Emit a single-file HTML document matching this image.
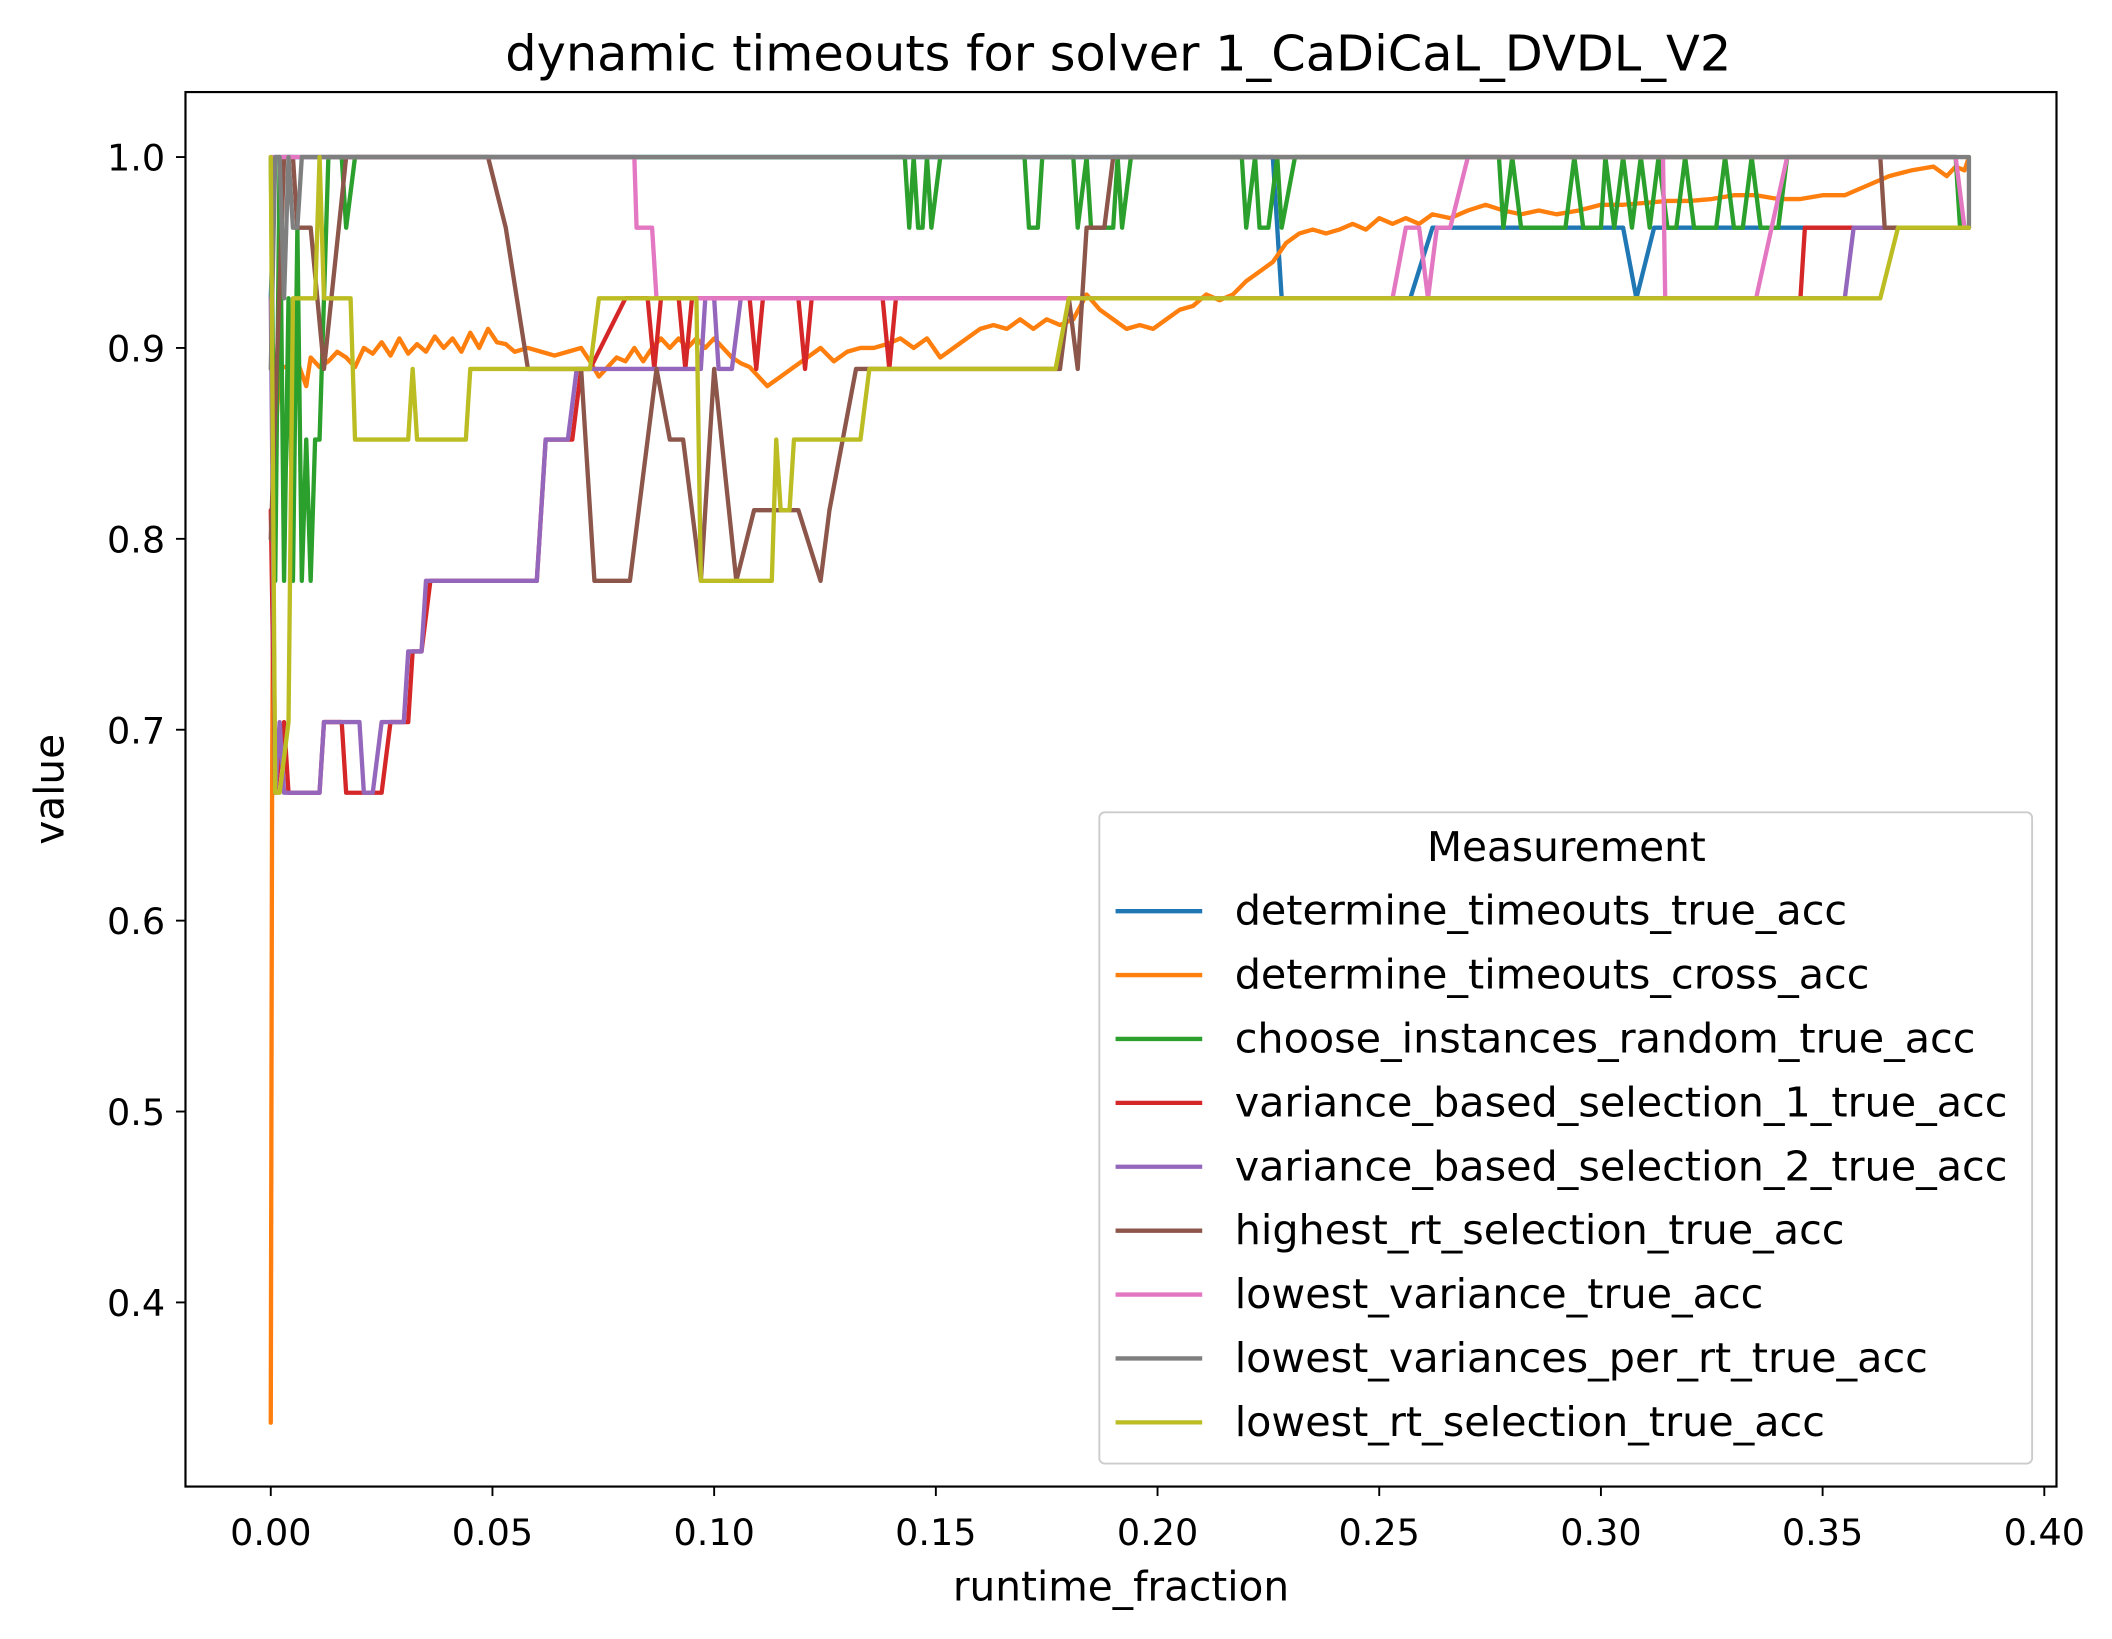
<!DOCTYPE html>
<html><head><meta charset="utf-8"><style>
html,body{margin:0;padding:0;background:#fff}
svg{display:block}
text{font-family:"DejaVu Sans","Liberation Sans",sans-serif;fill:#000}
</style></head><body>
<svg id="chart" width="2112" height="1639" viewBox="0 0 1560 1210.6" preserveAspectRatio="none" xmlns="http://www.w3.org/2000/svg">
<rect x="0" y="0" width="1560" height="1211" fill="#fff"/>
<text x="826" y="52" font-size="36.5" text-anchor="middle">dynamic timeouts for solver 1_CaDiCaL_DVDL_V2</text>
<g id="series"></g>
<rect x="137" y="68" width="1382" height="1030" fill="none" stroke="#000" stroke-width="1.6"/>
<g id="xt"></g>
<g id="yt"></g>
<text x="828" y="1182" font-size="30" text-anchor="middle">runtime_fraction</text>
<text transform="translate(47 583) rotate(-90)" font-size="30" text-anchor="middle">value</text>
<g id="legend"></g>
</svg>
<script>
const xTicks=[0,0.05,0.10,0.15,0.20,0.25,0.30,0.35,0.40];
const xTickLabels=["0.00","0.05","0.10","0.15","0.20","0.25","0.30","0.35","0.40"];
const yTicks=[0.4,0.5,0.6,0.7,0.8,0.9,1.0];
const yTickLabels=["0.4","0.5","0.6","0.7","0.8","0.9","1.0"];
const seriesNames=["determine_timeouts_true_acc","determine_timeouts_cross_acc","choose_instances_random_true_acc","variance_based_selection_1_true_acc","variance_based_selection_2_true_acc","highest_rt_selection_true_acc","lowest_variance_true_acc","lowest_variances_per_rt_true_acc","lowest_rt_selection_true_acc"];
const colors=["#1f77b4","#ff7f0e","#2ca02c","#d62728","#9467bd","#8c564b","#e377c2","#7f7f7f","#bcbd22"];
const blueData=[[0,0.926],[0.001,1],[0.226,1],[0.228,0.926],[0.257,0.926],[0.262,0.963],[0.305,0.963],[0.308,0.926],[0.312,0.963],[0.383,0.963]];
const orangeData=[[0,0.337],[0.0003,0.67],[0.0006,0.82],[0.001,0.85],[0.002,0.89],[0.004,0.89],[0.006,0.893],[0.008,0.88],[0.009,0.895],[0.011,0.89],[0.013,0.893],[0.015,0.898],[0.017,0.895],[0.019,0.89],[0.021,0.9],[0.023,0.897],[0.025,0.903],[0.027,0.896],[0.029,0.905],[0.031,0.897],[0.033,0.902],[0.035,0.898],[0.037,0.906],[0.039,0.9],[0.041,0.905],[0.043,0.898],[0.045,0.908],[0.047,0.9],[0.049,0.91],[0.051,0.903],[0.053,0.902],[0.055,0.898],[0.058,0.9],[0.061,0.898],[0.064,0.896],[0.067,0.898],[0.07,0.9],[0.072,0.893],[0.074,0.885],[0.076,0.89],[0.078,0.895],[0.08,0.893],[0.082,0.9],[0.084,0.893],[0.086,0.9],[0.088,0.905],[0.09,0.9],[0.092,0.905],[0.094,0.9],[0.096,0.905],[0.098,0.9],[0.1,0.905],[0.102,0.9],[0.104,0.895],[0.106,0.892],[0.108,0.89],[0.11,0.885],[0.112,0.88],[0.115,0.885],[0.118,0.89],[0.121,0.895],[0.124,0.9],[0.127,0.893],[0.13,0.898],[0.133,0.9],[0.136,0.9],[0.139,0.902],[0.142,0.905],[0.145,0.9],[0.148,0.905],[0.151,0.895],[0.154,0.9],[0.157,0.905],[0.16,0.91],[0.163,0.912],[0.166,0.91],[0.169,0.915],[0.172,0.91],[0.175,0.915],[0.178,0.912],[0.181,0.915],[0.184,0.928],[0.187,0.92],[0.19,0.915],[0.193,0.91],[0.196,0.912],[0.199,0.91],[0.202,0.915],[0.205,0.92],[0.208,0.922],[0.211,0.928],[0.214,0.925],[0.217,0.928],[0.22,0.935],[0.223,0.94],[0.226,0.945],[0.229,0.955],[0.232,0.96],[0.235,0.962],[0.238,0.96],[0.241,0.962],[0.244,0.965],[0.247,0.962],[0.25,0.968],[0.253,0.965],[0.256,0.968],[0.259,0.965],[0.262,0.97],[0.266,0.968],[0.27,0.972],[0.274,0.975],[0.278,0.972],[0.282,0.97],[0.286,0.972],[0.29,0.97],[0.295,0.972],[0.3,0.975],[0.305,0.975],[0.31,0.976],[0.315,0.977],[0.32,0.977],[0.325,0.978],[0.33,0.98],[0.335,0.98],[0.34,0.978],[0.345,0.978],[0.35,0.98],[0.355,0.98],[0.36,0.985],[0.365,0.99],[0.37,0.993],[0.375,0.995],[0.378,0.99],[0.38,0.995],[0.382,0.993],[0.383,1.0]];
const greenData=[[0,1],[0.001,0.778],[0.002,1],[0.003,0.778],[0.004,0.926],[0.005,0.778],[0.006,0.963],[0.007,0.778],[0.008,0.852],[0.009,0.778],[0.010,0.852],[0.011,0.852],[0.013,1],[0.016,1],[0.017,0.963],[0.019,1],[0.143,1],[0.144,0.963],[0.145,1],[0.146,0.963],[0.147,0.963],[0.148,1],[0.149,0.963],[0.151,1],[0.170,1],[0.171,0.963],[0.173,0.963],[0.174,1],[0.181,1],[0.182,0.963],[0.184,1],[0.185,0.963],[0.19,0.963],[0.191,1],[0.192,0.963],[0.194,1],[0.219,1],[0.22,0.963],[0.222,1],[0.223,0.963],[0.225,0.963],[0.227,1],[0.228,0.963],[0.231,1],[0.277,1],[0.278,0.963],[0.28,1],[0.282,0.963],[0.292,0.963],[0.294,1],[0.296,0.963],[0.3,0.963],[0.301,1],[0.303,0.963],[0.305,1],[0.307,0.963],[0.309,1],[0.311,0.963],[0.313,1],[0.315,0.963],[0.317,0.963],[0.319,1],[0.321,0.963],[0.326,0.963],[0.328,1],[0.33,0.963],[0.332,0.963],[0.334,1],[0.336,0.963],[0.34,0.963],[0.342,1],[0.38,1],[0.381,0.963],[0.383,0.963]];
const redData=[[0,0.815],[0.001,0.667],[0.003,0.704],[0.004,0.667],[0.011,0.667],[0.012,0.704],[0.016,0.704],[0.017,0.667],[0.025,0.667],[0.027,0.704],[0.031,0.704],[0.032,0.741],[0.034,0.741],[0.036,0.778],[0.06,0.778],[0.062,0.852],[0.068,0.852],[0.07,0.889],[0.072,0.889],[0.08,0.926],[0.085,0.926],[0.0865,0.889],[0.088,0.926],[0.092,0.926],[0.0935,0.889],[0.095,0.926],[0.108,0.926],[0.1095,0.889],[0.111,0.926],[0.119,0.926],[0.1205,0.889],[0.122,0.926],[0.138,0.926],[0.1395,0.889],[0.141,0.926],[0.345,0.926],[0.346,0.963],[0.383,0.963]];
const purpleData=[[0,0.926],[0.001,0.667],[0.002,0.704],[0.003,0.667],[0.011,0.667],[0.012,0.704],[0.02,0.704],[0.021,0.667],[0.023,0.667],[0.025,0.704],[0.03,0.704],[0.031,0.741],[0.034,0.741],[0.035,0.778],[0.06,0.778],[0.062,0.852],[0.067,0.852],[0.069,0.889],[0.075,0.889],[0.097,0.889],[0.098,0.926],[0.1,0.926],[0.101,0.889],[0.104,0.889],[0.106,0.926],[0.355,0.926],[0.357,0.963],[0.383,0.963]];
const brownData=[[0,0.8],[0.003,1],[0.005,1],[0.006,0.963],[0.009,0.963],[0.012,0.889],[0.017,1],[0.049,1],[0.053,0.963],[0.058,0.889],[0.07,0.889],[0.073,0.778],[0.081,0.778],[0.083,0.815],[0.087,0.889],[0.09,0.852],[0.093,0.852],[0.097,0.778],[0.1,0.889],[0.105,0.778],[0.109,0.815],[0.119,0.815],[0.124,0.778],[0.126,0.815],[0.132,0.889],[0.178,0.889],[0.18,0.926],[0.182,0.889],[0.184,0.963],[0.188,0.963],[0.19,1],[0.363,1],[0.364,0.963],[0.383,0.963]];
const pinkData=[[0,1],[0.082,1],[0.0825,0.963],[0.086,0.963],[0.087,0.926],[0.253,0.926],[0.256,0.963],[0.259,0.963],[0.261,0.926],[0.263,0.963],[0.266,0.963],[0.27,1],[0.314,1],[0.3145,0.926],[0.335,0.926],[0.342,1],[0.38,1],[0.382,0.963]];
const grayData=[[0,0.889],[0.001,1],[0.002,1],[0.003,0.926],[0.004,1],[0.005,0.963],[0.006,0.963],[0.007,1],[0.383,1],[0.383,0.963]];
const oliveData=[[0,1],[0.001,0.667],[0.002,0.667],[0.004,0.704],[0.005,0.926],[0.01,0.926],[0.011,1],[0.012,0.926],[0.018,0.926],[0.019,0.852],[0.031,0.852],[0.032,0.889],[0.033,0.852],[0.044,0.852],[0.045,0.889],[0.072,0.889],[0.074,0.926],[0.096,0.926],[0.097,0.778],[0.113,0.778],[0.114,0.852],[0.115,0.815],[0.117,0.815],[0.118,0.852],[0.133,0.852],[0.135,0.889],[0.177,0.889],[0.18,0.926],[0.363,0.926],[0.367,0.963],[0.383,0.963]];
const allData=[blueData,orangeData,greenData,redData,purpleData,brownData,pinkData,grayData,oliveData];

const NS="http://www.w3.org/2000/svg";
function xs(v){return 200+v*3275;}
function ys(v){return 116+(1-v)*1410;}
const sg=document.getElementById('series');
allData.forEach((d,i)=>{
  const p=document.createElementNS(NS,'path');
  p.setAttribute('d',d.map((q,j)=>(j?'L':'M')+xs(q[0]).toFixed(2)+' '+ys(q[1]).toFixed(2)).join(''));
  p.setAttribute('fill','none');p.setAttribute('stroke',colors[i]);p.setAttribute('stroke-width','3.2');p.setAttribute('stroke-linejoin','round');p.setAttribute('stroke-linecap','round');
  
  
  sg.appendChild(p);
});
const xt=document.getElementById('xt');
xTicks.forEach((v,i)=>{
  const l=document.createElementNS(NS,'line');
  l.setAttribute('x1',xs(v));l.setAttribute('x2',xs(v));l.setAttribute('y1',1098);l.setAttribute('y2',1105);l.setAttribute('stroke','#000');l.setAttribute('stroke-width','1.4');
  
  
  xt.appendChild(l);
  const t=document.createElementNS(NS,'text');
  t.setAttribute('x',xs(v));t.setAttribute('y',1141);t.setAttribute('font-size','27');t.setAttribute('text-anchor','middle');
  t.textContent=xTickLabels[i];
  
  
  xt.appendChild(t);
});
const yt=document.getElementById('yt');
yTicks.forEach((v,i)=>{
  const l=document.createElementNS(NS,'line');
  l.setAttribute('x1',130);l.setAttribute('x2',137);l.setAttribute('y1',ys(v));l.setAttribute('y2',ys(v));l.setAttribute('stroke','#000');l.setAttribute('stroke-width','1.4');
  
  
  yt.appendChild(l);
  const t=document.createElementNS(NS,'text');
  t.setAttribute('x',122);t.setAttribute('y',ys(v)+10);t.setAttribute('font-size','27');t.setAttribute('text-anchor','end');
  t.textContent=yTickLabels[i];
  
  
  yt.appendChild(t);
});
const lg=document.getElementById('legend');
const box=document.createElementNS(NS,'rect');
box.setAttribute('x',812);box.setAttribute('y',600);box.setAttribute('width',689);box.setAttribute('height',481);box.setAttribute('rx',4);
box.setAttribute('fill','#fff');box.setAttribute('fill-opacity','0.8');box.setAttribute('stroke','#ccc');box.setAttribute('stroke-width','1.4');


lg.appendChild(box);
const lt=document.createElementNS(NS,'text');
lt.setAttribute('x',1157);lt.setAttribute('y',636);lt.setAttribute('font-size','30');lt.setAttribute('text-anchor','middle');
lt.textContent='Measurement';


lg.appendChild(lt);
seriesNames.forEach((n,i)=>{
  const y=673+i*47.2;
  const l=document.createElementNS(NS,'line');
  l.setAttribute('x1',824);l.setAttribute('x2',888);l.setAttribute('y1',y);l.setAttribute('y2',y);l.setAttribute('stroke',colors[i]);l.setAttribute('stroke-width','3.2');
  
  
  lg.appendChild(l);
  const t=document.createElementNS(NS,'text');
  t.setAttribute('x',912);t.setAttribute('y',y+10);t.setAttribute('font-size','30.5');
  t.textContent=n;
  
  
  lg.appendChild(t);
});
</script>
</body></html>
